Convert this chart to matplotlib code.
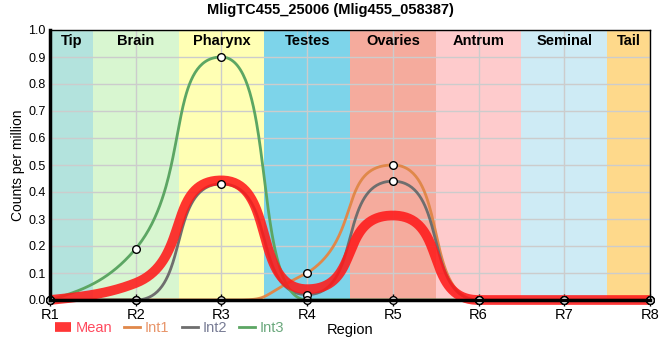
import numpy as np
import matplotlib
matplotlib.use('Agg')
import matplotlib.pyplot as plt
from matplotlib.lines import Line2D

plt.rcParams['font.family'] = ['Liberation Sans', 'DejaVu Sans']

# ----------- dados -----------
regioes = ['R1', 'R2', 'R3', 'R4', 'R5', 'R6', 'R7', 'R8']
int1 = [0, 0, 0, 0.10, 0.50, 0, 0, 0]
int2 = [0, 0, 0.43, 0.02, 0.44, 0, 0, 0]
int3 = [0, 0.19, 0.90, 0, 0, 0, 0, 0]
media = [0, 0.063, 0.443, 0.04, 0.313, 0, 0, 0]

faixas = ['Tip', 'Brain', 'Pharynx', 'Testes', 'Ovaries', 'Antrum', 'Seminal', 'Tail']
faixa_ini = [0, 0.5, 1.5, 2.5, 3.5, 4.5, 5.5, 6.5]
faixa_fim = [0.5, 1.5, 2.5, 3.5, 4.5, 5.5, 6.5, 7]
faixa_cor = ['#b3e3dd', '#d8f6d0', '#ffffb4', '#7dd4ea', '#f5ab9d', '#fecbcc', '#ceebf5', '#fed98b']


def suave(y, k=0.65, n=80):
    # curva bezier que passa pelos pontos (inclinacao de Steffen, alcas longas)
    y = np.asarray(y, float)
    s = np.diff(y)
    m = np.zeros(len(y))
    for i in range(1, len(y) - 1):
        s0, s1 = s[i - 1], s[i]
        p = (s0 + s1) / 2
        m[i] = (np.sign(s0) + np.sign(s1)) * min(abs(s0), abs(s1), 0.5 * abs(p))
    m[0] = (3 * s[0] - m[1]) / 2
    m[-1] = (3 * s[-1] - m[-2]) / 2
    xs, ys = [], []
    t = np.linspace(0, 1, n)
    for i in range(len(y) - 1):
        kk = 1 / 3 if i in (0, len(y) - 2) else k
        lo, hi = min(y[i], y[i + 1]), max(y[i], y[i + 1])
        c1y = np.clip(y[i] + kk * m[i], lo, hi)
        c2y = np.clip(y[i + 1] - kk * m[i + 1], lo, hi)
        bx = 3 * (1 - t) ** 2 * t * kk + 3 * (1 - t) * t ** 2 * (1 - kk) + t ** 3
        by = (1 - t) ** 3 * y[i] + 3 * (1 - t) ** 2 * t * c1y + 3 * (1 - t) * t ** 2 * c2y + t ** 3 * y[i + 1]
        xs.append(i + bx)
        ys.append(by)
    return np.concatenate(xs), np.concatenate(ys)


fig = plt.figure(figsize=(6.6, 3.6), dpi=100)
ax = fig.add_axes([50 / 660, 60 / 360, 600 / 660, 270 / 360])

for nome, a, b, c in zip(faixas, faixa_ini, faixa_fim, faixa_cor):
    ax.axvspan(a, b, color=c, lw=0, zorder=0)
    ax.text((a + b) / 2, 0.985, nome, ha='center', va='top', fontsize=10.5,
            fontweight='bold', zorder=6)

x = np.arange(len(regioes))
cores = {'Int1': '#e0884a', 'Int2': '#6e6e6e', 'Int3': '#5ca663'}
for nome, serie in [('Int1', int1), ('Int2', int2), ('Int3', int3)]:
    xs, ys = suave(serie)
    ax.plot(xs, ys, color=cores[nome], lw=2, zorder=3, clip_on=False)

xs, ys = suave(media)
ax.plot(xs, ys, color='#ff1a1a', lw=7, alpha=0.88, zorder=4, clip_on=False,
        solid_capstyle='butt')

for serie in [int1, int2, int3]:
    ax.plot(x, serie, 'o', ms=5.5, mfc='white', mec='black', mew=1, zorder=7,
            clip_on=False)

ax.set_xlim(0, 7)
ax.set_ylim(0, 1.0)
ax.set_xticks(x)
ax.set_xticklabels(regioes, fontsize=10.5)
ax.set_yticks(np.arange(0, 1.01, 0.1))
ax.set_yticklabels([f'{v:.1f}' for v in np.arange(0, 1.01, 0.1)], fontsize=9)
ax.tick_params(axis='x', direction='inout', length=8, width=1, pad=2)
ax.tick_params(axis='y', length=0, pad=3)
ax.grid(True, color='#cccccc', lw=1)
for l in ax.get_xgridlines() + ax.get_ygridlines():
    l.set_zorder(1)

ax.spines['left'].set_linewidth(2.5)
ax.spines['bottom'].set_linewidth(2.5)
ax.spines['top'].set_linewidth(1)
ax.spines['right'].set_linewidth(1)
for sp in ax.spines.values():
    sp.set_zorder(8)

ax.set_ylabel('Counts per million', fontsize=10)
ax.yaxis.set_label_coords(-25 / 600, 0.5)
fig.text(350 / 660, 1 - 330 / 360, 'Region', ha='center', va='center', fontsize=10.5)
fig.text(0.5, 1 - 10 / 360, 'MligTC455_25006 (Mlig455_058387)', ha='center',
         va='center', fontsize=10.5, fontweight='bold')

handles = [Line2D([], [], color='#ff1a1a', lw=7, alpha=0.88, solid_capstyle='butt'),
           Line2D([], [], color=cores['Int1'], lw=2),
           Line2D([], [], color=cores['Int2'], lw=2),
           Line2D([], [], color=cores['Int3'], lw=2)]
leg = fig.legend(handles, ['Mean', 'Int1', 'Int2', 'Int3'], loc='center left',
                 bbox_to_anchor=(55 / 660, 1 - 328 / 360), ncol=4, frameon=False,
                 fontsize=10.5, handlelength=1.1, handletextpad=0.3, columnspacing=0.85,
                 borderaxespad=0, borderpad=0)
for txt, c in zip(leg.get_texts(), ['#ff4a5e', '#e8956a', '#787c95', '#6aa87c']):
    txt.set_color(c)

fig.savefig('out.png', dpi=100)
